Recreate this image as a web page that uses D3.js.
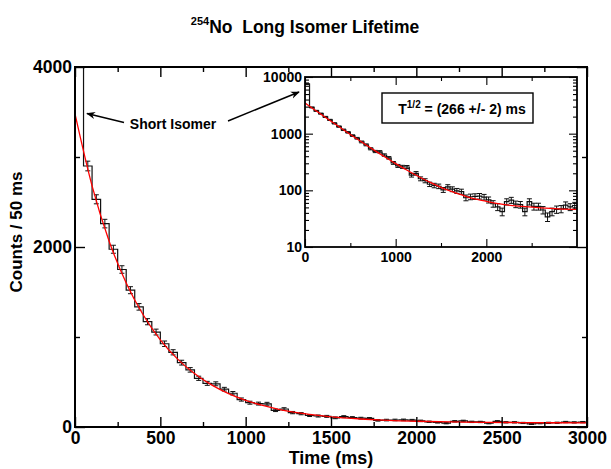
<!DOCTYPE html>
<html>
<head>
<meta charset="utf-8">
<script src="https://cdn.jsdelivr.net/npm/d3@7"></script>
<style>
  body { margin: 0; background: #fff; }
  text { font-family: "Liberation Sans", Arial, sans-serif; font-weight: bold; fill: #000; }
</style>
</head>
<body>
<div id="chart"></div>
<script>
// Histogram: counts per 50 ms bin, 0 - 3000 ms
const binWidth = 50;
const counts = [
  7500, 2900, 2530, 2260, 1975, 1750, 1520, 1335, 1170, 1055,
  925, 830, 715, 635, 541, 485, 480, 420, 375, 305,
  270, 260, 258, 185, 200, 160, 148, 128, 122, 118,
  102, 115, 105, 98, 95, 74, 77, 78, 79, 76,
  68, 58, 51, 42, 63, 67, 57, 56, 42, 63,
  52, 52, 45, 34, 42, 46, 47, 55, 51, 54
];

// Fit curve (ms, counts)
const fitTimes = [0, 100, 200, 300, 400, 500, 600, 700, 800, 900, 1000, 1100, 1200, 1300,
  1400, 1500, 1600, 1700, 1800, 1900, 2000, 2200, 2400, 2600, 2800, 3000];
const fitValues = [3480, 2680, 2064, 1601, 1244, 969, 757, 594, 468, 371, 296, 239, 194, 160,
  134, 113, 98, 86, 76, 69, 64, 56, 52, 49, 47, 46];

// Tick values
const mainXMajor = [0, 500, 1000, 1500, 2000, 2500, 3000];
const mainXMinor = [250, 750, 1250, 1750, 2250, 2750];
const mainYMajor = [0, 2000, 4000];
const mainYMinor = [1000, 3000];
const insetXMajor = [0, 1000, 2000];
const insetXMinor = [500, 1500, 2500];
const insetYMajor = [10, 100, 1000, 10000];

const width = 611, height = 469;
const main = { left: 75, right: 587, top: 67, bottom: 427 };
const inset = { left: 305, right: 577, top: 77, bottom: 247 };

const svg = d3.select("#chart").append("svg")
  .attr("width", width).attr("height", height);

const defs = svg.append("defs");
defs.append("clipPath").attr("id", "clipMain").append("rect")
  .attr("x", main.left).attr("y", main.top)
  .attr("width", main.right - main.left).attr("height", main.bottom - main.top);
defs.append("clipPath").attr("id", "clipInset").append("rect")
  .attr("x", inset.left).attr("y", inset.top)
  .attr("width", inset.right - inset.left).attr("height", inset.bottom - inset.top);
defs.append("marker").attr("id", "arrow")
  .attr("viewBox", "0 0 10 10").attr("refX", 9).attr("refY", 5)
  .attr("markerWidth", 9).attr("markerHeight", 9).attr("markerUnits", "userSpaceOnUse")
  .attr("orient", "auto")
  .append("path").attr("d", "M0,1 L10,5 L0,9 L3,5 Z").attr("fill", "#000");

const bins = counts.map((c, i) => ({ t0: i * binWidth, t1: (i + 1) * binWidth, v: c }));
const stepPoints = bins.map(b => [b.t0, b.v]).concat([[3000, counts[counts.length - 1]]]);
const fitPoints = fitTimes.map((t, i) => [t, fitValues[i]]);

function drawPanel(g, x, y, clipId, capW) {
  const plot = g.append("g").attr("clip-path", `url(#${clipId})`);
  // histogram steps
  plot.append("path")
    .attr("d", d3.line().x(d => x(d[0])).y(d => y(d[1])).curve(d3.curveStepAfter)(stepPoints))
    .attr("fill", "none").attr("stroke", "#111").attr("stroke-width", 1.2);
  // error bars
  const eb = plot.append("g").attr("stroke", "#111").attr("stroke-width", 1);
  bins.forEach(b => {
    const cx = x((b.t0 + b.t1) / 2);
    const e = Math.sqrt(b.v);
    const y1 = y(b.v + e), y2 = y(Math.max(b.v - e, 1e-3));
    eb.append("line").attr("x1", cx).attr("x2", cx).attr("y1", y1).attr("y2", y2);
    eb.append("line").attr("x1", cx - capW).attr("x2", cx + capW).attr("y1", y1).attr("y2", y1);
    eb.append("line").attr("x1", cx - capW).attr("x2", cx + capW).attr("y1", y2).attr("y2", y2);
  });
  // fit
  plot.append("path")
    .attr("d", d3.line().x(d => x(d[0])).y(d => y(d[1])).curve(d3.curveMonotoneX)(fitPoints))
    .attr("fill", "none").attr("stroke", "#ff0000").attr("stroke-width", 1.3);
}

function styleAxis(sel, fontSize) {
  sel.select(".domain").remove();
  sel.selectAll("line").attr("stroke", "#000").attr("stroke-width", 1.4);
  sel.selectAll("text").style("font-size", fontSize + "px")
    .style("font-family", '"Liberation Sans", Arial, sans-serif').style("font-weight", "bold");
}

// ---------- Main panel ----------
const x = d3.scaleLinear().domain([0, 3000]).range([main.left, main.right]);
const y = d3.scaleLinear().domain([0, 4000]).range([main.bottom, main.top]);

const gMain = svg.append("g");
drawPanel(gMain, x, y, "clipMain", 2.5);

const axes = [
  [d3.axisBottom(x).tickValues(mainXMajor).tickSize(-10).tickPadding(5).tickFormat(d3.format("d")), `translate(0,${main.bottom})`],
  [d3.axisBottom(x).tickValues(mainXMinor).tickSize(-5).tickFormat(""), `translate(0,${main.bottom})`],
  [d3.axisTop(x).tickValues(mainXMajor).tickSize(-10).tickFormat(""), `translate(0,${main.top})`],
  [d3.axisTop(x).tickValues(mainXMinor).tickSize(-5).tickFormat(""), `translate(0,${main.top})`],
  [d3.axisLeft(y).tickValues(mainYMajor).tickSize(-10).tickPadding(3).tickFormat(d3.format("d")), `translate(${main.left},0)`],
  [d3.axisLeft(y).tickValues(mainYMinor).tickSize(-5).tickFormat(""), `translate(${main.left},0)`],
  [d3.axisRight(y).tickValues(mainYMajor).tickSize(-10).tickFormat(""), `translate(${main.right},0)`],
  [d3.axisRight(y).tickValues(mainYMinor).tickSize(-5).tickFormat(""), `translate(${main.right},0)`]
];
axes.forEach(([ax, tr]) => {
  const a = svg.append("g").attr("transform", tr).call(ax.tickSizeOuter(0));
  styleAxis(a, 17.5);
});

svg.append("rect")
  .attr("x", main.left).attr("y", main.top)
  .attr("width", main.right - main.left).attr("height", main.bottom - main.top)
  .attr("fill", "none").attr("stroke", "#000").attr("stroke-width", 2);

// ---------- Inset ----------
const xi = d3.scaleLinear().domain([0, 3000]).range([inset.left, inset.right]);
const yi = d3.scaleLog().domain([10, 10000]).range([inset.bottom, inset.top]);
const insetYMinor = yi.ticks().filter(v => !insetYMajor.includes(v));

svg.append("rect")
  .attr("x", inset.left).attr("y", inset.top)
  .attr("width", inset.right - inset.left).attr("height", inset.bottom - inset.top)
  .attr("fill", "#fff");

const gInset = svg.append("g");
drawPanel(gInset, xi, yi, "clipInset", 2.5);

const insetAxes = [
  [d3.axisBottom(xi).tickValues(insetXMajor).tickSize(-8).tickPadding(5).tickFormat(d3.format("d")), `translate(0,${inset.bottom})`],
  [d3.axisBottom(xi).tickValues(insetXMinor).tickSize(-4).tickFormat(""), `translate(0,${inset.bottom})`],
  [d3.axisTop(xi).tickValues(insetXMajor).tickSize(-8).tickFormat(""), `translate(0,${inset.top})`],
  [d3.axisTop(xi).tickValues(insetXMinor).tickSize(-4).tickFormat(""), `translate(0,${inset.top})`],
  [d3.axisLeft(yi).tickValues(insetYMajor).tickSize(-8).tickPadding(3).tickFormat(d3.format("d")), `translate(${inset.left},0)`],
  [d3.axisLeft(yi).tickValues(insetYMinor).tickSize(-4).tickFormat(""), `translate(${inset.left},0)`],
  [d3.axisRight(yi).tickValues(insetYMajor).tickSize(-8).tickFormat(""), `translate(${inset.right},0)`],
  [d3.axisRight(yi).tickValues(insetYMinor).tickSize(-4).tickFormat(""), `translate(${inset.right},0)`]
];
insetAxes.forEach(([ax, tr]) => {
  const a = svg.append("g").attr("transform", tr).call(ax.tickSizeOuter(0));
  styleAxis(a, 14);
  a.selectAll("line").attr("stroke-width", 1.1);
});

svg.append("rect")
  .attr("x", inset.left).attr("y", inset.top)
  .attr("width", inset.right - inset.left).attr("height", inset.bottom - inset.top)
  .attr("fill", "none").attr("stroke", "#000").attr("stroke-width", 1.8);

// half-life box
svg.append("rect")
  .attr("x", 382).attr("y", 93).attr("width", 151).attr("height", 30)
  .attr("fill", "#fff").attr("stroke", "#000").attr("stroke-width", 1.4);
const tl = svg.append("text").attr("x", 462).attr("y", 114)
  .attr("text-anchor", "middle").style("font-size", "14px");
tl.append("tspan").text("T");
tl.append("tspan").attr("dy", -6).style("font-size", "10px").text("1/2");
tl.append("tspan").attr("dy", 6).text(" = (266 +/- 2) ms");

// ---------- Annotation ----------
svg.append("text").attr("x", 173).attr("y", 129)
  .attr("text-anchor", "middle").style("font-size", "14px").text("Short Isomer");
svg.append("line").attr("x1", 124).attr("y1", 122.5).attr("x2", 87).attr("y2", 113.5)
  .attr("stroke", "#000").attr("stroke-width", 1.4).attr("marker-end", "url(#arrow)");
svg.append("line").attr("x1", 228).attr("y1", 121).attr("x2", 299).attr("y2", 92)
  .attr("stroke", "#000").attr("stroke-width", 1.4).attr("marker-end", "url(#arrow)");

// ---------- Titles ----------
const title = svg.append("text").attr("x", 305).attr("y", 33)
  .attr("text-anchor", "middle").attr("xml:space", "preserve").style("font-size", "17.5px");
title.append("tspan").attr("dy", -8).style("font-size", "11px").text("254");
title.append("tspan").attr("dy", 8).text("No  Long Isomer Lifetime");

svg.append("text").attr("x", (main.left + main.right) / 2).attr("y", 464)
  .attr("text-anchor", "middle").style("font-size", "18px").text("Time (ms)");

svg.append("text")
  .attr("transform", `translate(22,${(main.top + main.bottom) / 2 - 15}) rotate(-90)`)
  .attr("text-anchor", "middle").style("font-size", "17px").text("Counts / 50 ms");
</script>
</body>
</html>
